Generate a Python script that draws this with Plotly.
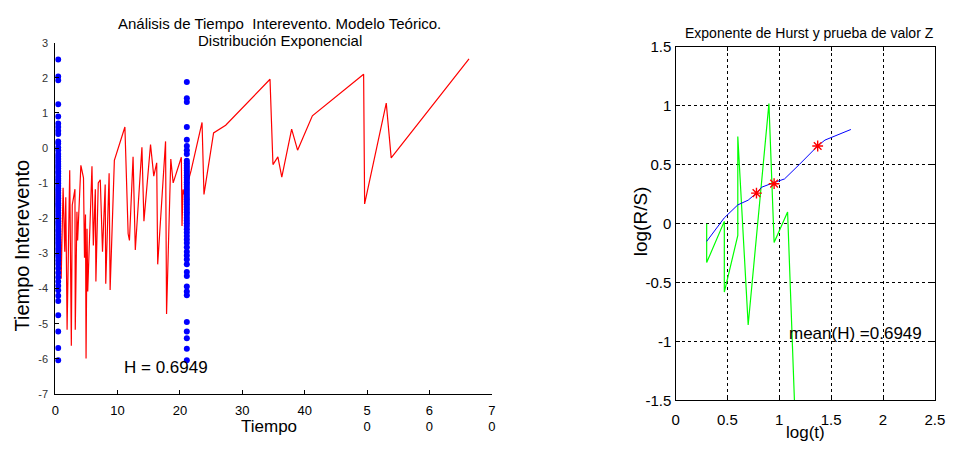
import plotly.graph_objects as go

# ---------------- Left chart data ----------------
red_x = [0.16, 0.32, 0.47, 0.63, 0.79, 0.95, 1.26, 1.53, 1.69, 1.90, 2.32, 2.58, 2.73, 3.16, 3.21,
         3.48, 3.59, 4.11, 4.53, 4.69, 4.85, 4.94, 5.10, 5.21, 5.89, 6.11, 6.43, 6.52, 6.90, 7.22,
         7.58, 8.01, 8.10, 8.64, 8.80, 9.48, 11.17, 11.69, 11.90, 12.48, 12.84, 13.90, 14.22, 15.28,
         15.80, 16.27, 16.43, 17.69, 17.85, 18.53, 18.91, 20.22, 20.33, 20.49, 20.74, 21.80, 23.54,
         23.85, 25.39, 27.33, 34.44, 34.91, 35.70, 36.33, 37.91, 38.86, 41.23, 49.45, 49.61, 53.08,
         53.87, 66.35]
red_y = [-1.26, -4.00, -1.54, -4.27, -1.81, -3.72, -1.13, -2.95, -1.40, -5.17, -0.63, -5.63, -1.62,
         -1.17, -5.17, -1.81, -2.63, -0.49, -0.85, -3.12, -1.89, -5.99, -2.30, -4.08, -0.52, -2.77,
         -1.17, -3.80, -0.99, -0.90, -2.95, -1.04, -3.86, -0.72, -4.04, -0.35, 0.60, -2.44, -2.63,
         -0.25, -2.90, 0.02, -2.08, 0.10, -0.80, -0.42, -3.31, 0.19, -4.72, -0.31, -0.99, -0.26,
         -2.22, -1.18, -1.34, -0.63, 0.73, -1.32, 0.43, 0.65, 1.96, -0.47, -0.25, -0.83, 0.54, -0.06,
         0.92, 2.10, -1.59, 1.28, -0.28, 2.54]

blue_left_x = 0.47
blue_left_y = [2.52, 2.04, 1.93, 1.25, 0.90, 0.70, 0.60, 0.49, 0.40, 0.19, 0.13, 0.02, -0.06,
               -0.17, -0.24, -0.31, -0.38, -0.45, -0.52, -0.58, -0.66, -0.72, -0.80, -0.87, -0.93,
               -1.00, -1.08, -1.15, -1.21, -1.28, -1.36, -1.43, -1.50, -1.57, -1.63, -1.70, -1.78,
               -1.85, -1.92, -2.00, -2.08, -2.15, -2.22, -2.30, -2.37, -2.45, -2.53, -2.60, -2.68,
               -2.76, -2.85, -2.93, -3.02, -3.10, -3.20, -3.30, -3.42, -3.55, -3.68, -3.80, -3.92,
               -4.05, -4.20, -4.35, -4.76, -5.22, -5.69, -6.04]
blue_right_x = 21.1
blue_right_y = [1.88, 1.42, 1.31, 0.60, 0.24, 0.06, -0.06, -0.17, -0.36, -0.43, -0.50, -0.57,
                -0.64, -0.70, -0.77, -0.84, -0.90, -0.97, -1.04, -1.11, -1.18, -1.25, -1.32, -1.39,
                -1.46, -1.53, -1.60, -1.68, -1.75, -1.83, -1.90, -1.98, -2.06, -2.14, -2.22, -2.31,
                -2.40, -2.50, -2.60, -2.70, -2.82, -2.95, -3.06, -3.17, -3.31, -3.53, -3.64, -3.94,
                -4.08, -4.19, -4.95, -5.22, -5.41, -5.71, -6.04]

left_xticks = [0, 10, 20, 30, 40, 50, 60, 70]
left_xticktext = ["0", "10", "20", "30", "40", "5<br>0", "6<br>0", "7<br>0"]
left_yticks = [3, 2, 1, 0, -1, -2, -3, -4, -5, -6, -7]
left_yticktext = ["3", "2", "1", "0", "-1", "-2", "-3", "-4", "-5", "-6", "-7"]

# ---------------- Right chart data ----------------
logt = [0.30, 0.47, 0.60, 0.70, 0.78, 0.83, 0.95, 1.05, 1.19, 1.37, 1.44, 1.57, 1.69]
logrs = [-0.15, 0.05, 0.16, 0.20, 0.26, 0.31, 0.35, 0.38, 0.50, 0.66, 0.71, 0.76, 0.80]
star_x = [0.78, 0.95, 1.37]
star_y = [0.26, 0.34, 0.66]
green_x = [0.30, 0.30, 0.47, 0.47, 0.60, 0.60, 0.70, 0.90, 0.95, 1.08, 1.15]
green_y = [0.00, -0.33, 0.02, -0.58, -0.10, 0.74, -0.86, 1.02, -0.16, 0.10, -1.60]
right_xticks = [0, 0.5, 1, 1.5, 2, 2.5]
right_xticktext = ["0", "0.5", "1", "1.5", "2", "2.5"]
right_yticks = [-1.5, -1, -0.5, 0, 0.5, 1, 1.5]
right_yticktext = ["-1.5", "-1", "-0.5", "0", "0.5", "1", "1.5"]

FONT = "Liberation Sans, Arial, sans-serif"
W, H = 959, 453

fig = go.Figure()
fig.add_trace(go.Scatter(x=red_x, y=red_y, mode="lines", line=dict(color="#ff0000", width=1.2),
                         xaxis="x", yaxis="y", showlegend=False))
fig.add_trace(go.Scatter(x=[blue_left_x] * len(blue_left_y), y=blue_left_y, mode="markers",
                         marker=dict(color="#0000ff", size=6), xaxis="x", yaxis="y", showlegend=False))
fig.add_trace(go.Scatter(x=[blue_right_x] * len(blue_right_y), y=blue_right_y, mode="markers",
                         marker=dict(color="#0000ff", size=6), xaxis="x", yaxis="y", showlegend=False))

fig.add_trace(go.Scatter(x=green_x, y=green_y, mode="lines", line=dict(color="#00ff00", width=1.2),
                         xaxis="x2", yaxis="y2", showlegend=False))
fig.add_trace(go.Scatter(x=logt, y=logrs, mode="lines", line=dict(color="#0000ff", width=1),
                         xaxis="x2", yaxis="y2", showlegend=False))
fig.add_trace(go.Scatter(x=star_x, y=star_y, mode="markers",
                         marker=dict(symbol="asterisk-open", color="#ff0000", size=9,
                                     line=dict(color="#ff0000", width=1.4)),
                         xaxis="x2", yaxis="y2", showlegend=False))

def px_x(p):
    return p / W

def px_y(p):
    return 1 - p / H

fig.update_layout(
    width=W, height=H, autosize=False,
    margin=dict(l=0, r=0, t=0, b=0),
    paper_bgcolor="white", plot_bgcolor="white",
    font=dict(family=FONT, color="black"),
    xaxis=dict(domain=[px_x(52), px_x(495)], range=[0, 70], tickvals=left_xticks,
               ticktext=left_xticktext, showline=True, linecolor="black", linewidth=1,
               ticks="inside", ticklen=4, tickcolor="black", showgrid=False, zeroline=False,
               tickfont=dict(size=13), ticklabelstandoff=4, anchor="y"),
    yaxis=dict(domain=[px_y(400), px_y(35)], range=[-7, 3], tickvals=left_yticks,
               ticktext=left_yticktext, showline=True, linecolor="black", linewidth=1,
               ticks="inside", ticklen=4, tickcolor="black", showgrid=False, zeroline=False,
               tickfont=dict(size=11, color="#333333"), ticklabelstandoff=4, anchor="x"),
    xaxis2=dict(domain=[px_x(681.5), px_x(944.7)], range=[0, 2.5], tickvals=right_xticks,
                ticktext=right_xticktext, showline=True, mirror="ticks", linecolor="black",
                linewidth=1.3, ticks="inside", ticklen=4, tickcolor="black", showgrid=True,
                gridcolor="black", gridwidth=1, griddash="3px,3px", zeroline=False,
                tickfont=dict(size=15), ticklabelstandoff=5, anchor="y2"),
    yaxis2=dict(domain=[px_y(406.7), px_y(39.5)], range=[-1.5, 1.5], tickvals=right_yticks,
                ticktext=right_yticktext, showline=True, mirror="ticks", linecolor="black",
                linewidth=1.3, ticks="inside", ticklen=4, tickcolor="black", showgrid=True,
                gridcolor="black", gridwidth=1, griddash="3px,3px", zeroline=False,
                tickfont=dict(size=15), anchor="x2"),
)

ann = [
    dict(text="Análisis de Tiempo  Interevento. Modelo Teórico.", x=px_x(280), y=px_y(15),
         font=dict(size=15)),
    dict(text="Distribución Exponencial", x=px_x(280), y=px_y(33), font=dict(size=15)),
    dict(text="Tiempo Interevento", x=px_x(18), y=px_y(246), font=dict(size=20), textangle=-90),
    dict(text="Tiempo", x=px_x(269), y=px_y(434), font=dict(size=17)),
    dict(text="Exponente de Hurst y prueba de valor Z", x=px_x(817), y=px_y(25), font=dict(size=14)),
    dict(text="log(R/S)", x=px_x(646), y=px_y(221), font=dict(size=19), textangle=-90),
    dict(text="log(t)", x=px_x(813), y=px_y(440), font=dict(size=17)),
]
for a in ann:
    fig.add_annotation(xref="paper", yref="paper", showarrow=False, xanchor="center",
                       yanchor="middle", **a)

fig.add_annotation(text="H = 0.6949", x=17.7, y=-6.26, xref="x", yref="y", showarrow=False,
                   xanchor="center", yanchor="middle", font=dict(size=17))
fig.add_annotation(text="mean(H) =0.6949", x=1.73, y=-0.933, xref="x2", yref="y2",
                   showarrow=False, xanchor="center", yanchor="middle", font=dict(size=17))

fig.write_html("out.html")
